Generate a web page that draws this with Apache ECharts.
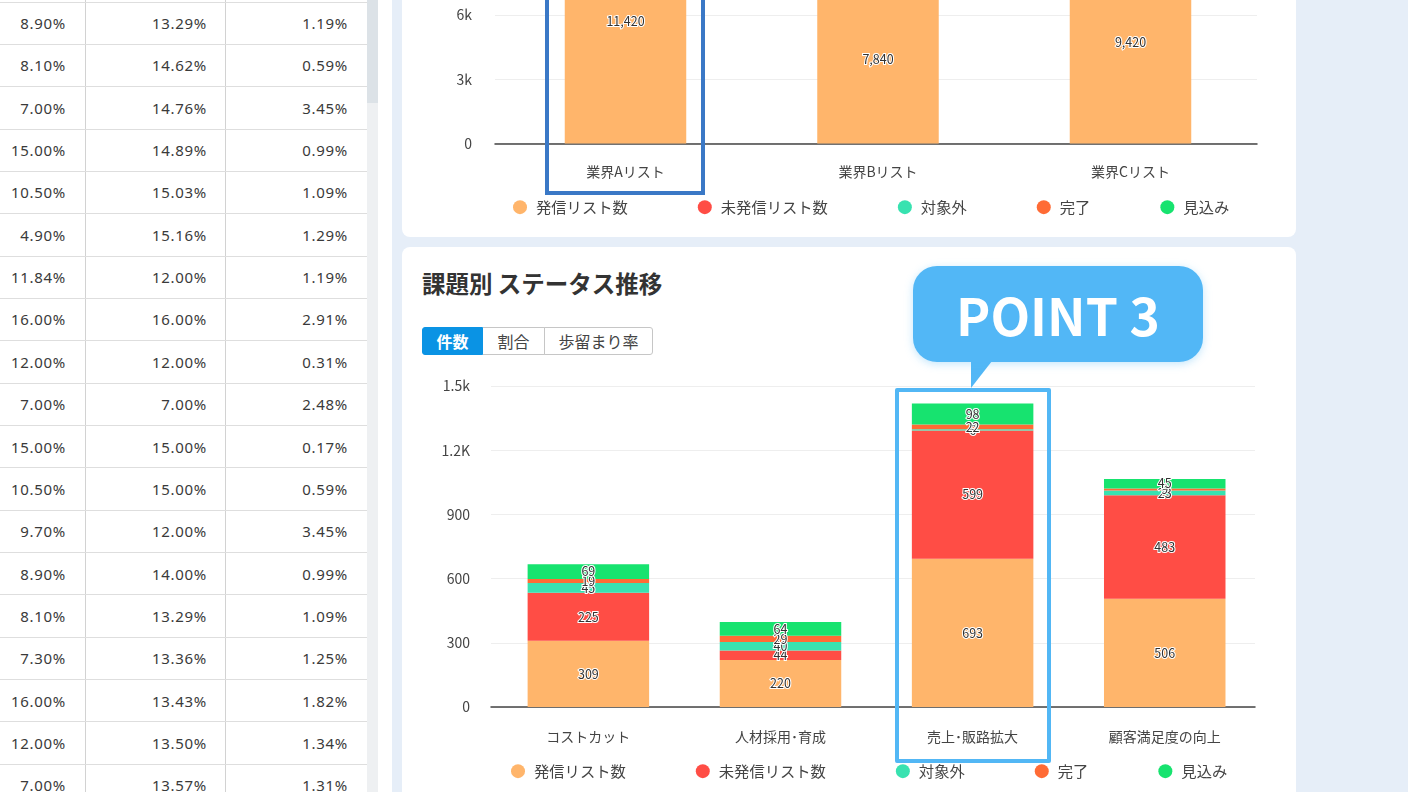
<!DOCTYPE html>
<html lang="ja">
<head>
<meta charset="utf-8">
<title>課題別 ステータス推移</title>
<script src="https://cdn.jsdelivr.net/npm/echarts@6/dist/echarts.min.js"></script>
<style>
    html, body { margin: 0; padding: 0; width: 1408px; height: 792px; overflow: hidden; background: #e6eef8; font-family: "Noto Sans CJK JP", "Noto Sans", sans-serif; color: #333; }
    .abs { position: absolute; box-sizing: border-box; }
    #side { left: 0; top: 0; width: 392px; height: 792px; background: #fff; }
    #track { left: 367px; top: 0; width: 11px; height: 792px; background: #eef0f2; }
    #thumb { left: 367px; top: 0; width: 11px; height: 103px; background: #dce2e7; }
    .vline { top: 0; width: 1px; height: 792px; background: #d2d2d2; }
    .hline { left: 0; width: 367px; height: 1px; background: #dedede; }
    .cell { width: 80px; text-align: right; font-size: 15px; line-height: 20px; letter-spacing: .7px; font-family: "Noto Sans", sans-serif; color: #3a3a3a; }
    .card { left: 402px; width: 894px; background: #fff; border-radius: 8px; }
    #title { left: 422px; top: 266px; font-size: 23.5px; line-height: 34px; font-weight: 700; color: #333; white-space: nowrap; }
    .tab { top: 327px; height: 28px; border: 1px solid #c6c6c6; font-size: 16px; line-height: 26px; text-align: center; color: #444; background: #fff; }
    #tab1 { left: 422px; width: 61px; background: #0a93e4; border-color: #0a93e4; color: #fff; font-weight: 700; border-radius: 3px 0 0 3px; }
    #tab2 { left: 483px; width: 62px; border-left: 0; }
    #tab3 { left: 544px; width: 109px; border-radius: 0 3px 3px 0; }
    #boxA { left: 545px; top: -10px; width: 160px; height: 205px; border: 4px solid #3a78c6; }
    #boxB { left: 895px; top: 388px; width: 156px; height: 375px; border: 4px solid #52b7f5; border-radius: 2px; }
    #callout { left: 913px; top: 266px; width: 290px; height: 96px; background: #52b7f6; border-radius: 24px; color: #fff; font-size: 51.5px; font-weight: 700; line-height: 96px; text-align: center; box-shadow: 0 2px 8px rgba(82,183,246,.35); white-space: nowrap; }
    #tail { left: 971px; top: 361px; width: 21px; height: 27px; background: #52b7f6; clip-path: polygon(0 0, 100% 0, 0 100%); }
</style>
</head>
<body>
<div class="abs" id="side"></div>
<div class="abs" id="track"></div>
<div class="abs" id="thumb"></div>
<div id="table"></div>
<div class="abs card" style="top:-20px;height:257px"></div>
<div class="abs card" style="top:247px;height:580px"></div>
<div class="abs" id="chartA" style="left:402px;top:-240px;width:894px;height:477px"></div>
<div class="abs" id="title">課題別 ステータス推移</div>
<div class="abs tab" id="tab1">件数</div>
<div class="abs tab" id="tab2">割合</div>
<div class="abs tab" id="tab3">歩留まり率</div>
<div class="abs" id="chartB" style="left:402px;top:247px;width:894px;height:560px"></div>
<div class="abs" id="boxA"></div>
<div class="abs" id="boxB"></div>
<div class="abs" id="tail"></div>
<div class="abs" id="callout">POINT 3</div>
<script>
var colA = ['8.90%', '8.10%', '7.00%', '15.00%', '10.50%', '4.90%', '11.84%', '16.00%', '12.00%', '7.00%', '15.00%', '10.50%', '9.70%', '8.90%', '8.10%', '7.30%', '16.00%', '12.00%', '7.00%'];
var colB = ['13.29%', '14.62%', '14.76%', '14.89%', '15.03%', '15.16%', '12.00%', '16.00%', '12.00%', '7.00%', '15.00%', '15.00%', '12.00%', '14.00%', '13.29%', '13.36%', '13.43%', '13.50%', '13.57%'];
var colC = ['1.19%', '0.59%', '3.45%', '0.99%', '1.09%', '1.29%', '1.19%', '2.91%', '0.31%', '2.48%', '0.17%', '0.59%', '3.45%', '0.99%', '1.09%', '1.25%', '1.82%', '1.34%', '1.31%'];

var seriesNames = ['発信リスト数', '未発信リスト数', '対象外', '完了', '見込み'];
var seriesColors = ['#ffb56b', '#ff4d45', '#38e2b0', '#ff6b35', '#17e36f'];

var listCategories = ['業界Aリスト', '業界Bリスト', '業界Cリスト'];
var listTicks = ['0', '3k', '6k', '9k', '12k', '15k'];
var listSent = [11420, 7840, 9420];

var topicCategories = ['コストカット', '人材採用･育成', '売上･販路拡大', '顧客満足度の向上'];
var topicTicks = ['0', '300', '600', '900', '1.2K', '1.5k'];
var topicSent = [309, 220, 693, 506];
var topicUnsent = [225, 44, 599, 483];
var topicExcluded = [45, 40, 6, 23];
var topicDone = [19, 29, 22, 9];
var topicProspect = [69, 64, 98, 45];

function buildTable() {
    var html = '';
    var vx = [85, 225];
    for (var v = 0; v < vx.length; v++) {
        html += '<div class="abs vline" style="left:' + vx[v] + 'px"></div>';
    }
    var rights = [66, 207, 348];
    var cols = [colA, colB, colC];
    for (var i = 0; i < colA.length; i++) {
        var lineY = 1.5 + 42.35 * i;
        html += '<div class="abs hline" style="top:' + lineY + 'px"></div>';
        for (var c = 0; c < cols.length; c++) {
            html += '<div class="abs cell" style="left:' + (rights[c] - 80) + 'px;top:' + (lineY + 11.5) + 'px">' + cols[c][i] + '</div>';
        }
    }
    document.getElementById('table').innerHTML = html;
}

function toSeries(values, idx) {
    var data = [];
    for (var i = 0; i < values.length; i++) {
        data.push([values[i], i]);
    }
    return {
        name: seriesNames[idx],
        type: 'bar',
        stack: 'total',
        barWidth: 121.5,
        // value first: the stack runs on the first numeric dimension
        encode: {x: 1, y: 0},
        data: data,
        itemStyle: {color: seriesColors[idx]},
        label: {
            show: true,
            position: 'inside',
            fontSize: 12.5,
            color: '#333',
            textBorderColor: '#fff',
            textBorderWidth: 2,
            formatter: function (p) {
                return p.value[0].toLocaleString('en-US');
            }
        }
    };
}

function createChart(id, o) {
    var chart = echarts.init(document.getElementById(id));
    chart.setOption({
        animation: false,
        textStyle: {fontFamily: '"Noto Sans CJK JP", "Noto Sans", sans-serif'},
        grid: o.grid,
        legend: {
            data: seriesNames,
            left: o.legendLeft,
            top: o.legendTop,
            icon: 'circle',
            itemWidth: 14,
            itemHeight: 14,
            itemGap: 70,
            textStyle: {fontSize: 15.3, color: '#444', padding: [0, 0, 0, 4]}
        },
        xAxis: {
            type: 'value',
            min: o.xMin,
            max: o.xMax,
            splitLine: {show: false},
            axisTick: {show: false},
            axisLine: {show: true, onZero: false, lineStyle: {color: '#444', width: 1.5}},
            axisLabel: {
                show: true,
                customValues: o.categories.map(function (c, i) { return i; }),
                margin: o.xMargin,
                fontSize: 14,
                color: '#444',
                formatter: function (v) {
                    return o.categories[v];
                }
            }
        },
        yAxis: {
            type: 'value',
            min: 0,
            max: o.yMax,
            interval: o.yMax / 5,
            axisLine: {show: false},
            axisTick: {show: false},
            splitLine: {lineStyle: {color: '#eeeeee', width: 1}},
            axisLabel: {
                margin: o.yMargin,
                fontSize: 14,
                color: '#444',
                formatter: function (v, i) {
                    return o.ticks[i];
                }
            }
        },
        series: o.series
    });
    return chart;
}

buildTable();

createChart('chartA', {
    grid: {left: 93, right: 39, top: 62, bottom: 93.5},
    legendLeft: 106,
    legendTop: 434.5,
    xMin: -0.5168,
    xMax: 2.501,
    xMargin: 21.5,
    yMax: 15000,
    yMargin: 23,
    ticks: listTicks,
    categories: listCategories,
    series: [
        toSeries(listSent, 0),
        toSeries([], 1),
        toSeries([], 2),
        toSeries([], 3),
        toSeries([], 4)
    ]
});

createChart('chartB', {
    grid: {left: 89, right: 41, top: 139, bottom: 100},
    legendLeft: 104,
    legendTop: 511.5,
    xMin: -0.5068,
    xMax: 3.4698,
    xMargin: 23,
    yMax: 1500,
    yMargin: 21,
    ticks: topicTicks,
    categories: topicCategories,
    series: [
        toSeries(topicSent, 0),
        toSeries(topicUnsent, 1),
        toSeries(topicExcluded, 2),
        toSeries(topicDone, 3),
        toSeries(topicProspect, 4)
    ]
});
</script>
</body>
</html>
